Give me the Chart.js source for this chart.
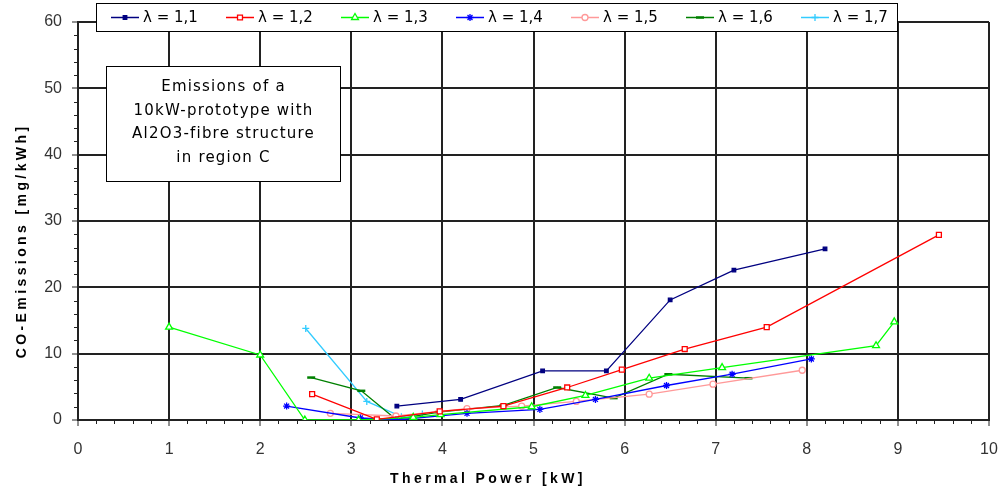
<!DOCTYPE html>
<html>
<head>
  <title>CO-Emissions vs Thermal Power</title>
  <script src="https://cdn.jsdelivr.net/npm/chart.js"></script>
  <style>
    html, body { margin: 0; padding: 0; background: #fff; }
    #wrap { width: 1000px; height: 492px; }
  </style>
</head>
<body>
  <div id="wrap"><canvas id="coChart" width="1000" height="492"></canvas></div>

  <script>
    // values (thermal power in kW, CO in mg/kWh)
    const power11 = [3.5, 4.2, 5.1, 5.8, 6.5, 7.2, 8.2];
    const co11    = [2.1, 3.1, 7.4, 7.4, 18.1, 22.6, 25.8];

    const power12 = [2.57, 3.28, 3.97, 4.67, 5.37, 5.97, 6.66, 7.56, 9.45];
    const co12    = [3.9, 0.1, 1.3, 2.1, 4.9, 7.6, 10.7, 14.0, 27.9];

    const power13 = [1.0, 2.0, 2.49, 3.08, 3.68, 3.98, 4.98, 5.57, 6.27, 7.07, 8.76, 8.96];
    const co13    = [14.0, 9.8, 0, 0, 0.4, 0.8, 2.0, 3.7, 6.3, 7.9, 11.2, 14.8];

    const power14 = [2.29, 3.1, 3.49, 4.27, 5.07, 5.68, 6.46, 7.18, 8.05];
    const co14    = [2.1, 0.3, 0, 1.0, 1.6, 3.1, 5.2, 6.9, 9.2];

    const power15 = [2.77, 3.49, 4.27, 4.87, 5.47, 6.27, 6.97, 7.95];
    const co15    = [1.0, 0.6, 1.7, 2.1, 2.8, 3.9, 5.4, 7.5];

    const power16 = [2.56, 3.11, 3.49, 3.96, 4.67, 5.26, 5.88, 6.48, 7.36];
    const co16    = [6.4, 4.4, 0.1, 1.2, 2.2, 4.9, 3.3, 6.9, 6.3];

    const power17 = [2.5, 3.17, 3.55, 3.78];
    const co17    = [13.8, 2.8, 0.5, 0.9];

    const seriesLabels = ['λ = 1,1', 'λ = 1,2', 'λ = 1,3', 'λ = 1,4', 'λ = 1,5', 'λ = 1,6', 'λ = 1,7'];
    const xTicks = [0, 1, 2, 3, 4, 5, 6, 7, 8, 9, 10];
    const yTicks = [0, 10, 20, 30, 40, 50, 60];

    const noteLines = ['Emissions of a', '10kW-prototype with', 'Al2O3-fibre structure', 'in region C'];

    function pts(xs, ys) {
      return xs.map((x, i) => ({ x: x, y: ys[i] }));
    }

    function series(label, xs, ys, color, style, radius, fill) {
      return {
        label: label,
        data: pts(xs, ys),
        showLine: true,
        borderColor: color,
        borderWidth: 1.3,
        pointStyle: style,
        pointRadius: radius,
        pointBorderWidth: 1.3,
        pointBackgroundColor: fill,
        pointBorderColor: color,
        tension: 0
      };
    }

    const datasets = [
      series(seriesLabels[0], power11, co11, '#000080', 'rect', 2.5, '#000080'),
      series(seriesLabels[1], power12, co12, '#ff0000', 'rect', 3.5, '#ffffff'),
      series(seriesLabels[2], power13, co13, '#00ff00', 'triangle', 4, '#ffffff'),
      series(seriesLabels[3], power14, co14, '#0000ff', 'star', 3.5, '#0000ff'),
      series(seriesLabels[4], power15, co15, '#ff9999', 'circle', 3, '#ffffff'),
      series(seriesLabels[5], power16, co16, '#008000', 'line', 4, '#008000'),
      series(seriesLabels[6], power17, co17, '#33ccff', 'cross', 3.5, '#33ccff')
    ];
    datasets[5].pointBorderWidth = 2.5;

    // minor ticks, note box, legend box and spaced axis titles
    const extras = {
      id: 'extras',
      afterDraw(chart) {
        const ctx = chart.ctx;
        const xs = chart.scales.x, ys = chart.scales.y;
        const area = chart.chartArea;

        ctx.save();
        ctx.strokeStyle = '#222';
        ctx.lineWidth = 1;
        ctx.beginPath();
        for (let i = 0; i <= 50; i++) {
          if (i % 5 === 0) continue;
          const px = Math.round(xs.getPixelForValue(i / 5)) + 0.5;
          ctx.moveTo(px, area.bottom);
          ctx.lineTo(px, area.bottom + 4);
        }
        for (let j = 0; j <= 30; j++) {
          if (j % 5 === 0) continue;
          const py = Math.round(ys.getPixelForValue(j * 2)) + 0.5;
          ctx.moveTo(area.left - 4, py);
          ctx.lineTo(area.left, py);
        }
        ctx.stroke();

        // note box
        const bx0 = Math.round(xs.getPixelForValue(0.31)) + 0.5;
        const bx1 = Math.round(xs.getPixelForValue(2.88)) + 0.5;
        const by0 = Math.round(ys.getPixelForValue(53.4)) + 0.5;
        const by1 = Math.round(ys.getPixelForValue(36.0)) + 0.5;
        ctx.fillStyle = '#fff';
        ctx.fillRect(bx0, by0, bx1 - bx0, by1 - by0);
        ctx.strokeStyle = '#000';
        ctx.lineWidth = 1;
        ctx.strokeRect(bx0, by0, bx1 - bx0, by1 - by0);
        ctx.fillStyle = '#000';
        ctx.font = '15px "DejaVu Sans", Verdana, sans-serif';
        ctx.letterSpacing = '1.2px';
        ctx.textAlign = 'center';
        ctx.textBaseline = 'middle';
        const cx = (bx0 + bx1) / 2;
        noteLines.forEach((t, k) => {
          ctx.fillText(t, cx, by0 + 21 + k * 23.5);
        });

        // legend
        const lx0 = area.left + 18.5, lx1 = area.left + 819.5;
        const ly0 = 3.5, ly1 = 31.5;
        ctx.letterSpacing = '0px';
        ctx.fillStyle = '#fff';
        ctx.fillRect(lx0, ly0, lx1 - lx0, ly1 - ly0);
        ctx.strokeStyle = '#000';
        ctx.strokeRect(lx0, ly0, lx1 - lx0, ly1 - ly0);
        ctx.font = '15px "DejaVu Sans", Verdana, sans-serif';
        ctx.textAlign = 'left';
        chart.data.datasets.forEach((ds, i) => {
          const sx = area.left + 33 + i * 115;
          const sy = 17.5;
          ctx.strokeStyle = ds.borderColor;
          ctx.lineWidth = 1.5;
          ctx.beginPath();
          ctx.moveTo(sx, sy);
          ctx.lineTo(sx + 28, sy);
          ctx.stroke();
          ctx.fillStyle = ds.pointBackgroundColor;
          ctx.strokeStyle = ds.borderColor;
          ctx.lineWidth = ds.pointBorderWidth;
          Chart.helpers.drawPoint(ctx, {
            pointStyle: ds.pointStyle,
            radius: ds.pointRadius,
            borderWidth: ds.pointBorderWidth,
            rotation: 0
          }, sx + 14, sy);
          ctx.fillStyle = '#000';
          ctx.fillText(ds.label, sx + 32, sy + 1);
        });

        // axis titles
        ctx.fillStyle = '#000';
        ctx.font = 'bold 14px "Liberation Sans", Arial, sans-serif';
        ctx.letterSpacing = '3.4px';
        ctx.textAlign = 'center';
        ctx.textBaseline = 'middle';
        ctx.fillText('Thermal Power [kW]', xs.getPixelForValue(4.5), 479);
        ctx.translate(22, ys.getPixelForValue(27));
        ctx.rotate(-Math.PI / 2);
        ctx.fillText('CO-Emissions [mg/kWh]', 0, 0);
        ctx.restore();
      }
    };

    const ctx = document.getElementById('coChart').getContext('2d');
    const chart = new Chart(ctx, {
      type: 'scatter',
      data: { datasets: datasets },
      options: {
        responsive: false,
        animation: false,
        devicePixelRatio: 1,
        layout: { padding: { left: 0, top: 22, right: 11, bottom: 0 } },
        plugins: {
          legend: { display: false },
          tooltip: { enabled: false }
        },
        scales: {
          x: {
            type: 'linear',
            min: 0,
            max: 10,
            afterBuildTicks: (s) => { s.ticks = xTicks.map(v => ({ value: v })); },
            afterFit: (s) => { s.height = 72; s.paddingLeft = 0; s.paddingRight = 0; },
            ticks: {
              color: '#333',
              font: { family: '"Liberation Sans", Arial, sans-serif', size: 16 },
              padding: 14,
              maxRotation: 0
            },
            grid: { color: '#222', lineWidth: 2, tickLength: 6, tickWidth: 1, tickColor: '#222' },
            border: { color: '#222', width: 2 }
          },
          y: {
            type: 'linear',
            min: 0,
            max: 60,
            afterBuildTicks: (s) => { s.ticks = yTicks.map(v => ({ value: v })); },
            afterFit: (s) => { s.width = 78; s.paddingTop = 0; s.paddingBottom = 0; },
            ticks: {
              color: '#333',
              font: { family: '"Liberation Sans", Arial, sans-serif', size: 16 },
              padding: 10
            },
            grid: { color: '#222', lineWidth: 2, tickLength: 6, tickWidth: 1, tickColor: '#222' },
            border: { color: '#222', width: 2 }
          }
        }
      },
      plugins: [extras]
    });
  </script>
</body>
</html>
